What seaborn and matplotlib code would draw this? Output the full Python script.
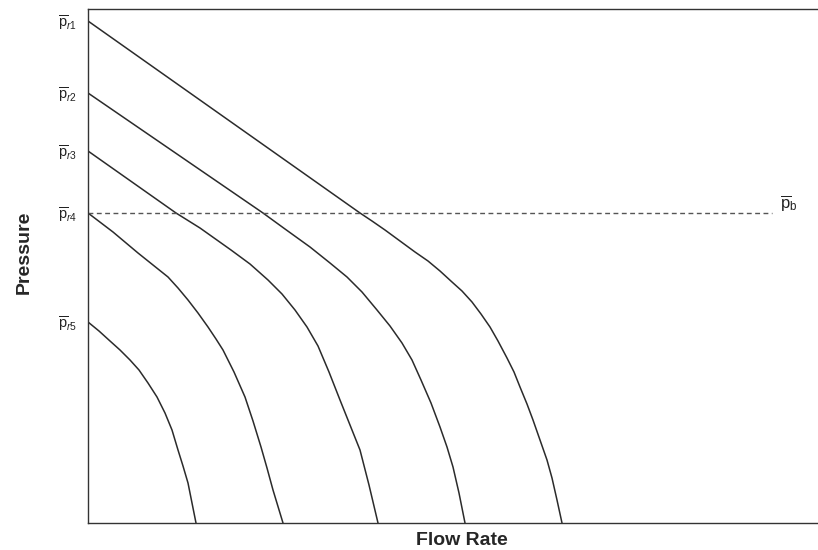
import numpy as np
import pandas as pd
import matplotlib
matplotlib.use('Agg')
import matplotlib.pyplot as plt
import seaborn as sns

# curves (flow, pressure), arbitrary units
q1 = [0, 272, 284, 297, 312, 327, 340, 352, 364, 374, 384, 393, 402, 410,
      419, 426, 432, 439, 445, 452, 459, 464, 469, 474]
p1 = [502, 310, 302, 293, 282, 271, 262, 252, 241, 232, 221, 209, 196, 182,
      165, 151, 136, 119, 103, 83, 63, 45, 23, 0]

q2 = [0, 175, 197, 222, 242, 259, 274, 289, 302, 314, 324, 333, 343, 352,
      359, 365, 371, 377]
p2 = [430, 310, 294, 276, 260, 246, 231, 213, 197, 180, 163, 143, 120, 96,
      76, 56, 30, 0]

q3 = [0, 88, 112, 143, 162, 180, 194, 207, 219, 230, 241, 252, 262, 272, 281, 290]
p3 = [372, 310, 295, 273, 259, 243, 229, 213, 196, 177, 151, 123, 98, 73, 38, 0]

q4 = [0, 25, 50, 65, 80, 90, 100, 110, 120, 128, 135, 146, 157, 165, 173, 179, 185, 195]
p4 = [310, 291, 270, 258, 246, 235, 223, 210, 196, 184, 173, 151, 126, 102, 76, 55, 33, 0]

q5 = [0, 11, 22, 32, 42, 51, 60, 69, 77, 84, 90, 95, 100, 104, 108]
p5 = [201, 192, 182, 173, 163, 153, 140, 126, 110, 93, 73, 57, 40, 20, 0]

pb = 310
pb_end = 684
ytick_vals = [502, 430, 372, 310, 201]
ytick_labels = [r'$\overline{\mathrm{p}}_{r1}$', r'$\overline{\mathrm{p}}_{r2}$',
                r'$\overline{\mathrm{p}}_{r3}$', r'$\overline{\mathrm{p}}_{r4}$',
                r'$\overline{\mathrm{p}}_{r5}$']

sns.set_style('white')
plt.rcParams['font.family'] = ['Liberation Sans', 'DejaVu Sans']
plt.rcParams['mathtext.fontset'] = 'custom'
plt.rcParams['mathtext.rm'] = 'Liberation Sans'
plt.rcParams['mathtext.it'] = 'Liberation Sans:italic'

fig = plt.figure(figsize=(8.18, 5.5), dpi=100)
ax = fig.add_axes([88 / 818, 27 / 550, 1 - 88 / 818, (523 - 9) / 550])

curves = [(q1, p1), (q2, p2), (q3, p3), (q4, p4), (q5, p5)]
for q, p in curves:
    sns.lineplot(x=q, y=p, sort=False, color='#2b2b2b', linewidth=1.1, ax=ax,
                 solid_joinstyle='round')

# bubble point line
sns.lineplot(x=[0, pb_end], y=[pb, pb], color='#555555', linewidth=1.0,
             linestyle=(0, (3.5, 2.5)), ax=ax)
ax.text(692, 320, r'$\overline{\mathrm{p}}_{\mathrm{b}}$', fontsize=12,
        ha='left', va='center', color='#222222')

ax.set_xlim(0, 730)
ax.set_ylim(0, 514)
ax.set_xticks([])
ax.set_yticks(ytick_vals)
ax.set_yticklabels(ytick_labels, fontsize=10.5, color='#222222')
ax.tick_params(axis='y', length=0, pad=8)

ax.set_xlabel('Flow Rate', fontsize=14, fontweight='bold')
ax.set_ylabel('Pressure', fontsize=14, fontweight='bold')
ax.xaxis.set_label_coords(0.512, -0.018)
ax.yaxis.set_label_coords(-0.075, 0.527)

for s in ['left', 'top', 'bottom']:
    ax.spines[s].set_color('#333333')
    ax.spines[s].set_linewidth(1.0)
ax.spines['right'].set_visible(False)

fig.savefig('out.png', dpi=100)
